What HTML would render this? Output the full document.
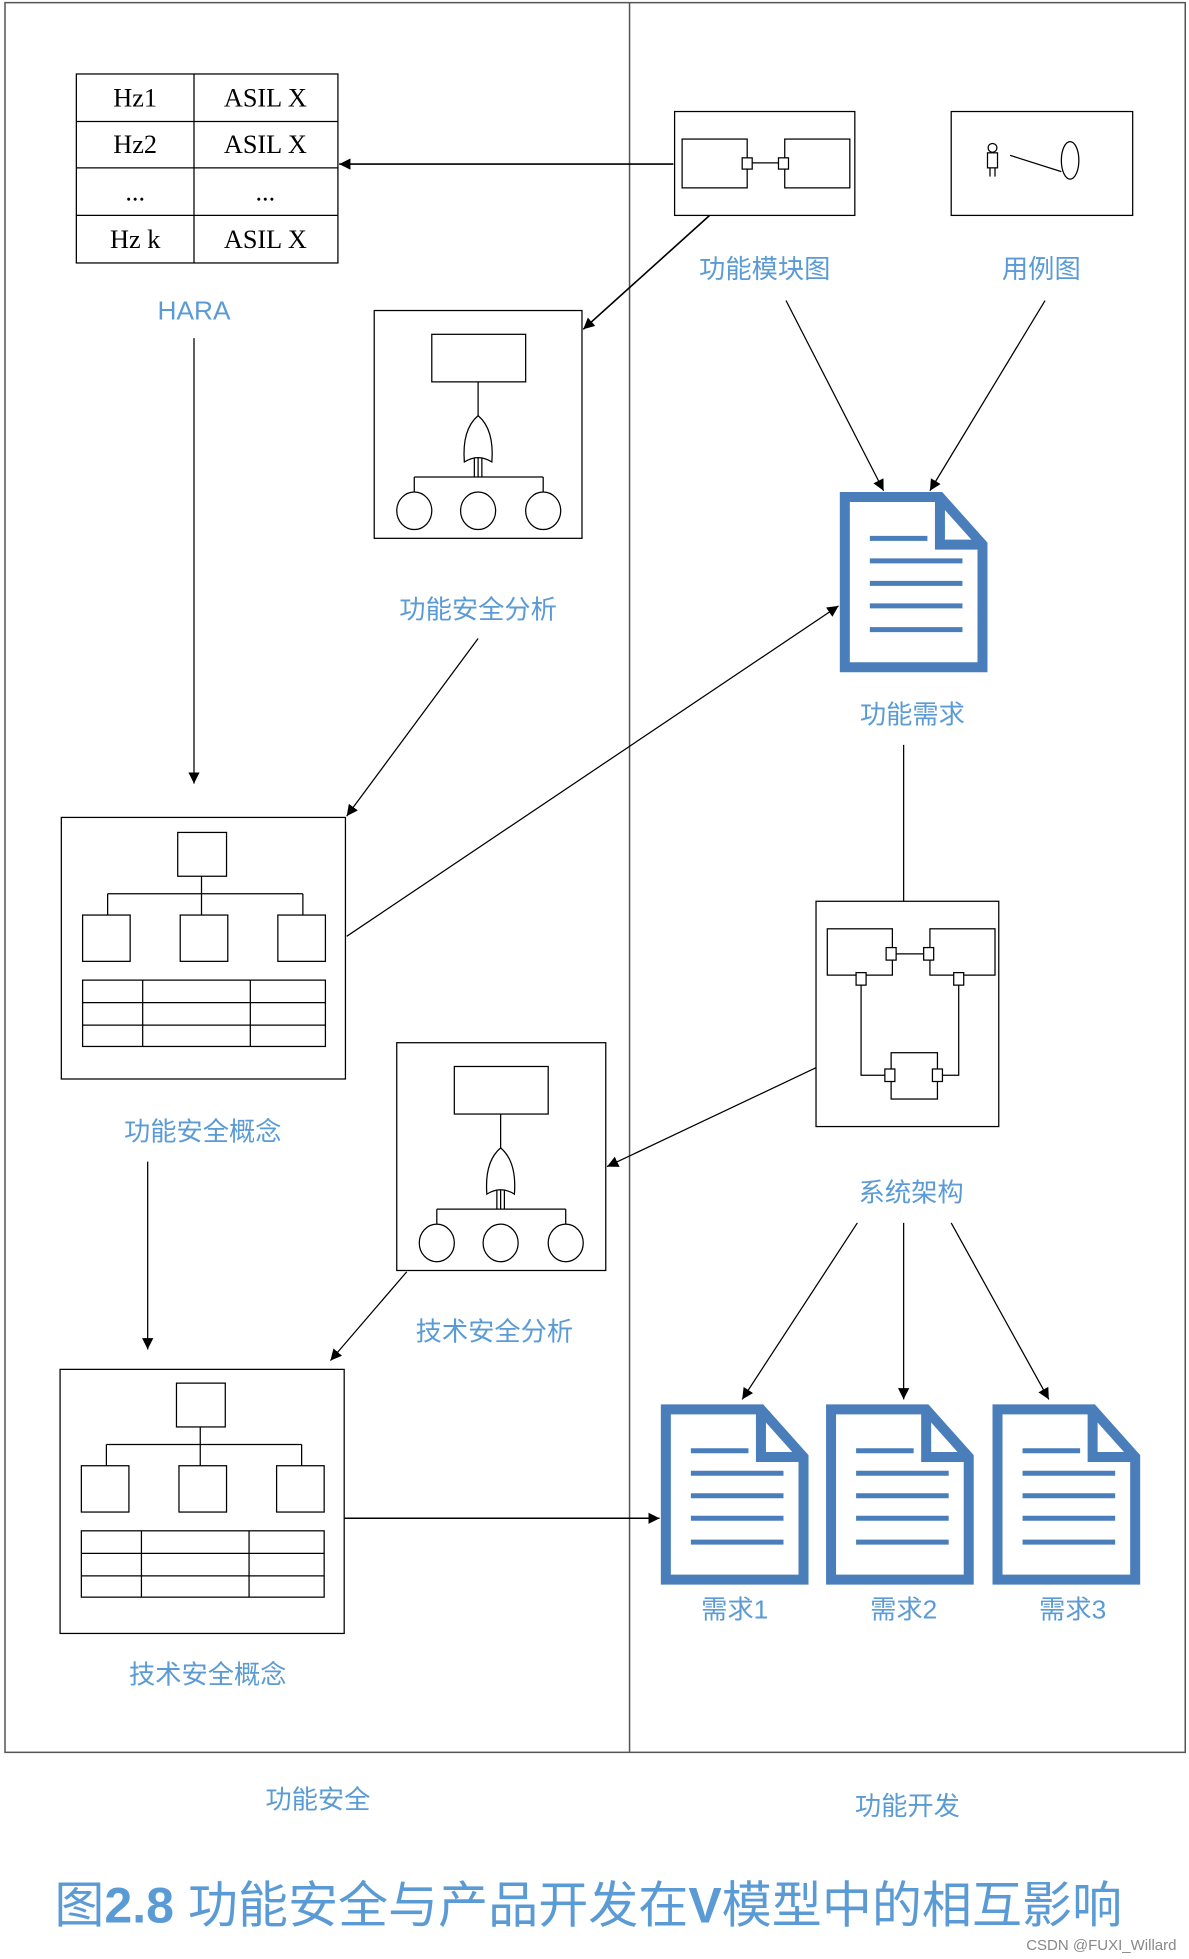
<!DOCTYPE html>
<html><head><meta charset="utf-8"><style>
html,body{margin:0;padding:0;background:#fff;}
svg{display:block;}
.lbl{font-family:"Liberation Sans","Noto Sans CJK SC",sans-serif;font-size:21px;fill:#5b9bd5;text-anchor:middle;}
.tbl{font-family:"Liberation Serif",serif;font-size:21px;fill:#000;text-anchor:middle;}
</style></head><body>
<svg width="1189" height="1959" viewBox="0 0 950 1565" xmlns="http://www.w3.org/2000/svg">
<defs>
<marker id="ar" viewBox="0 0 10 10" refX="10" refY="5" markerWidth="9" markerHeight="9" orient="auto" markerUnits="userSpaceOnUse"><path d="M0,0 L10,5 L0,10 z" fill="#000"/></marker>
<g id="doc">
<path d="M0,0 L76,0 L110,38 L110,136 L0,136 Z" fill="#fff" stroke="#4a7ebb" stroke-width="8"/>
<path d="M76,0 L76,38 L110,38" fill="none" stroke="#4a7ebb" stroke-width="8"/>
<g stroke="#4a7ebb" stroke-width="4">
<line x1="20" y1="33" x2="66" y2="33"/><line x1="20" y1="51" x2="94" y2="51"/><line x1="20" y1="69" x2="94" y2="69"/><line x1="20" y1="87" x2="94" y2="87"/><line x1="20" y1="106" x2="94" y2="106"/>
</g>
</g>
<g id="fta" fill="#fff" stroke="#000" stroke-width="1">
<rect x="46" y="19" width="75" height="38"/>
<line x1="83" y1="57" x2="83" y2="133"/>
<path d="M72,121 Q70,95 83,84 Q96,95 94,121 Q83,114 72,121 Z"/>
<line x1="80" y1="118" x2="80" y2="133"/><line x1="86" y1="118" x2="86" y2="133"/>
<line x1="32" y1="133" x2="135" y2="133"/>
<line x1="32" y1="133" x2="32" y2="146"/><line x1="135" y1="133" x2="135" y2="146"/>
<ellipse cx="32" cy="160" rx="14" ry="15"/><ellipse cx="83" cy="160" rx="14" ry="15"/><ellipse cx="135" cy="160" rx="14" ry="15"/>
</g>
<g id="conc" fill="#fff" stroke="#000" stroke-width="1">
<rect x="93" y="12" width="39" height="35"/>
<line x1="112" y1="47" x2="112" y2="78"/>
<line x1="37" y1="61" x2="193" y2="61"/>
<line x1="37" y1="61" x2="37" y2="78"/><line x1="193" y1="61" x2="193" y2="78"/>
<rect x="17" y="78" width="38" height="37"/><rect x="95" y="78" width="38" height="37"/><rect x="173" y="78" width="38" height="37"/>
<rect x="17" y="130" width="194" height="53"/>
<line x1="65" y1="130" x2="65" y2="183"/><line x1="151" y1="130" x2="151" y2="183"/>
<line x1="17" y1="148" x2="211" y2="148"/><line x1="17" y1="166" x2="211" y2="166"/>
</g>
</defs>

<rect x="4" y="2" width="943" height="1398" fill="none" stroke="#555" stroke-width="1.2"/>
<line x1="503" y1="2" x2="503" y2="1400" stroke="#555" stroke-width="1.2"/>

<g fill="none" stroke="#000" stroke-width="1">
<rect x="61" y="59" width="209" height="151"/>
<line x1="155" y1="59" x2="155" y2="210"/>
<line x1="61" y1="97" x2="270" y2="97"/><line x1="61" y1="134" x2="270" y2="134"/><line x1="61" y1="172" x2="270" y2="172"/>
</g>
<text class="tbl" x="108" y="85">Hz1</text><text class="tbl" x="212" y="85">ASIL X</text>
<text class="tbl" x="108" y="122">Hz2</text><text class="tbl" x="212" y="122">ASIL X</text>
<text class="tbl" x="108" y="160">...</text><text class="tbl" x="212" y="160">...</text>
<text class="tbl" x="108" y="198">Hz k</text><text class="tbl" x="212" y="198">ASIL X</text>
<text class="lbl" x="155" y="255">HARA</text>

<g fill="#fff" stroke="#000" stroke-width="1">
<rect x="539" y="89" width="144" height="83"/>
<rect x="545" y="111" width="52" height="39"/><rect x="627" y="111" width="52" height="39"/>
<line x1="601" y1="130" x2="622" y2="130"/>
<rect x="593" y="126" width="8" height="9"/><rect x="622" y="126" width="8" height="9"/>
<rect x="760" y="89" width="145" height="83"/>
<circle cx="793" cy="118" r="3.5"/>
<rect x="789" y="122" width="8" height="12"/>
<line x1="791" y1="134" x2="791" y2="141"/><line x1="795" y1="134" x2="795" y2="141"/>
<line x1="807" y1="124" x2="848" y2="137"/>
<ellipse cx="855" cy="128" rx="7" ry="15"/>
</g>
<text class="lbl" x="611" y="222">功能模块图</text>
<text class="lbl" x="832" y="222">用例图</text>

<line x1="538" y1="131" x2="271" y2="131" stroke="#000" stroke-width="1.3" marker-end="url(#ar)"/>
<line x1="567" y1="172" x2="466" y2="263" stroke="#000" stroke-width="1.3" marker-end="url(#ar)"/>

<rect x="299" y="248" width="166" height="182" fill="#fff" stroke="#000" stroke-width="1"/>
<use href="#fta" x="299" y="248"/>
<text class="lbl" x="382" y="494">功能安全分析</text>

<line x1="628" y1="240" x2="706" y2="392" stroke="#000" stroke-width="1" marker-end="url(#ar)"/>
<line x1="835" y1="240" x2="743" y2="392" stroke="#000" stroke-width="1" marker-end="url(#ar)"/>

<use href="#doc" x="675" y="397"/>
<text class="lbl" x="729" y="578">功能需求</text>

<line x1="155" y1="270" x2="155" y2="626" stroke="#000" stroke-width="1" marker-end="url(#ar)"/>
<line x1="382" y1="510" x2="277" y2="652" stroke="#000" stroke-width="1" marker-end="url(#ar)"/>

<rect x="49" y="653" width="227" height="209" fill="#fff" stroke="#000" stroke-width="1"/>
<use href="#conc" x="49" y="653"/>
<text class="lbl" x="162" y="911">功能安全概念</text>
<line x1="277" y1="748" x2="670" y2="484" stroke="#000" stroke-width="1" marker-end="url(#ar)"/>

<line x1="722" y1="595" x2="722" y2="720" stroke="#000" stroke-width="1"/>

<g fill="#fff" stroke="#000" stroke-width="1">
<rect x="652" y="720" width="146" height="180"/>
<rect x="661" y="742" width="52" height="37"/><rect x="743" y="742" width="52" height="37"/>
<line x1="713" y1="762" x2="743" y2="762"/>
<rect x="708" y="757" width="8" height="10"/><rect x="738" y="757" width="8" height="10"/>
<polyline points="688,785 688,859 708,859" fill="none"/>
<polyline points="766,785 766,859 745,859" fill="none"/>
<rect x="712" y="841" width="37" height="37"/>
<rect x="684" y="777" width="8" height="10"/><rect x="762" y="777" width="8" height="10"/>
<rect x="707" y="854" width="8" height="10"/><rect x="745" y="854" width="8" height="10"/>
</g>
<text class="lbl" x="728" y="960">系统架构</text>

<line x1="652" y1="853" x2="485" y2="932" stroke="#000" stroke-width="1" marker-end="url(#ar)"/>

<rect x="317" y="833" width="167" height="182" fill="#fff" stroke="#000" stroke-width="1"/>
<use href="#fta" x="317" y="833"/>
<text class="lbl" x="395" y="1071">技术安全分析</text>

<line x1="118" y1="928" x2="118" y2="1078" stroke="#000" stroke-width="1" marker-end="url(#ar)"/>
<line x1="325" y1="1016" x2="264" y2="1087" stroke="#000" stroke-width="1" marker-end="url(#ar)"/>

<rect x="48" y="1094" width="227" height="211" fill="#fff" stroke="#000" stroke-width="1"/>
<use href="#conc" x="48" y="1093"/>
<text class="lbl" x="166" y="1345">技术安全概念</text>

<line x1="275" y1="1213" x2="527" y2="1213" stroke="#000" stroke-width="1.2" marker-end="url(#ar)"/>

<line x1="685" y1="977" x2="593" y2="1118" stroke="#000" stroke-width="1" marker-end="url(#ar)"/>
<line x1="722" y1="977" x2="722" y2="1118" stroke="#000" stroke-width="1" marker-end="url(#ar)"/>
<line x1="760" y1="977" x2="838" y2="1118" stroke="#000" stroke-width="1" marker-end="url(#ar)"/>

<use href="#doc" x="532" y="1126"/>
<use href="#doc" x="664" y="1126"/>
<use href="#doc" x="797" y="1126"/>
<text class="lbl" x="587" y="1293">需求1</text>
<text class="lbl" x="722" y="1293">需求2</text>
<text class="lbl" x="857" y="1293">需求3</text>

<text class="lbl" x="254" y="1445">功能安全</text>
<text class="lbl" x="725" y="1450">功能开发</text>

<text x="470" y="1536" style="font-family:'Liberation Sans','Noto Sans CJK SC',sans-serif;font-size:40px;fill:#5b9bd5;text-anchor:middle;">图<tspan font-weight="bold">2.8</tspan> 功能安全与产品开发在<tspan font-weight="bold">V</tspan>模型中的相互影响</text>
<text x="940" y="1558" style="font-family:'Liberation Sans',sans-serif;font-size:12px;fill:#888;text-anchor:end;">CSDN @FUXI_Willard</text>
</svg>
</body></html>
